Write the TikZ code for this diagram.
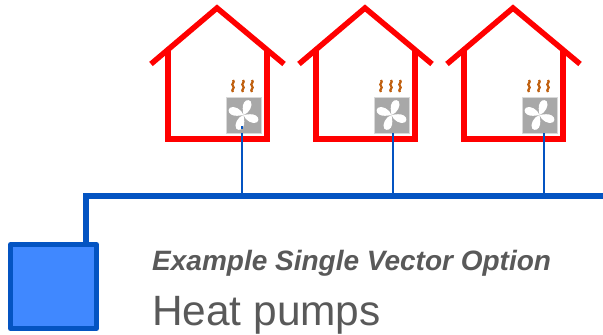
\documentclass[tikz,border=0pt]{standalone}
\usepackage{fontspec}
\setmainfont{Liberation Sans}
\usetikzlibrary{positioning}
\definecolor{pipeblue}{HTML}{0454C2}
\definecolor{tankblue}{HTML}{4088FF}
\definecolor{unitgray}{HTML}{A8A8A8}
\definecolor{steambrown}{HTML}{C0600F}
\definecolor{textgray}{HTML}{595959}
\tikzset{
  wall/.style={draw=red,line width=5.5pt,line join=miter},
  pipe/.style={draw=pipeblue,line width=5.5pt},
  branch/.style={draw=pipeblue,line width=2.4pt},
  unitbox/.style={draw=white!85!black,fill=unitgray,line width=.8pt,minimum width=35pt,minimum height=36pt,inner sep=0pt},
  steam/.style={draw=steambrown,line width=2.2pt},
  blade/.style={fill=white,draw=none},
  house/.pic={
    \draw [wall] (-66,56) -- (0,0) -- (67,56);
    \draw [wall] (-49,42) -- (-49,131) -- (50,131) -- (50,42);
    \node [unitbox] (-unit) at (26.5,107) {};
    \foreach \sx in {16,26,35}
      \draw [steam] (\sx,72) .. controls (\sx+2.6,74.5) and (\sx-2.6,76) .. (\sx,78) .. controls (\sx+2.6,80) and (\sx-2.6,81.5) .. (\sx,84);
    \foreach \ang in {75,-15,-105,165}
      \fill [blade,shift={(26.5,107)},rotate=\ang] (0,0) .. controls (3,5) and (12,7) .. (15,3.5) .. controls (17,0) and (14,-3.5) .. (9,-3) .. controls (5,-2.5) and (2,-1) .. (0,0) -- cycle;
  }
}
\begin{document}
\begin{tikzpicture}[x=1pt,y=-1pt]
\useasboundingbox (0,0) rectangle (603,335);

\pic (hA) at (217,8) {house};
\pic (hB) at (365,8) {house};
\pic (hC) at (513,8) {house};

\node [draw=pipeblue,fill=tankblue,line width=5pt,line join=round,minimum width=86pt,minimum height=84pt,inner sep=0pt] (tank) at (53.5,286.5) {};
\coordinate (bend) at (86,196);
\coordinate (mainend) at (603,196);
\coordinate (tapA) at (242,196);
\coordinate (tapB) at (393,196);
\coordinate (tapC) at (544,196);

\draw [pipe] (tank.north -| bend) -- (bend) -- (mainend);
\draw [branch] (tapA) -- (hA-unit.south -| tapA);
\draw [branch] (tapB) -- (hB-unit.south -| tapB);
\draw [branch] (tapC) -- (hC-unit.south -| tapC);
\draw [branch] (242,126) -- (242,128.5);

\node [anchor=base west,inner sep=0pt,text=textgray,font=\bfseries\itshape\fontsize{28}{32}\selectfont] (subtitle) at (152,270) {Example Single Vector Option};
\node [anchor=base west,inner sep=0pt,text=textgray,font=\fontsize{42.4}{48}\selectfont] (title) at (152,325.5) {Heat pumps};
\end{tikzpicture}
\end{document}
